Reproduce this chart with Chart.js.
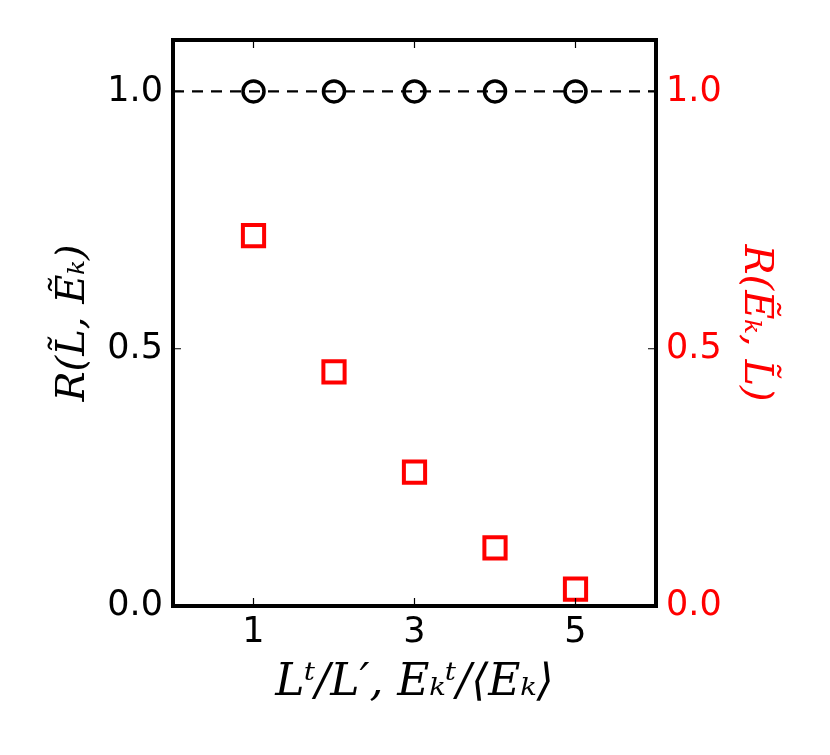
<!DOCTYPE html>
<html>
<head>
<meta charset="utf-8">
<script src="https://cdn.jsdelivr.net/npm/chart.js@4.4.0/dist/chart.umd.min.js"></script>
<style>
  html, body { margin: 0; padding: 0; background: #fff; }
  #wrap { width: 830px; height: 755px; }
</style>
</head>
<body>
<div id="wrap"><canvas id="corrChart"></canvas></div>
<script>
// values
const ratios = [1, 2, 3, 4, 5];
const corrLE = [1.0, 1.0, 1.0, 1.0, 1.0];
const corrEL = [0.72, 0.455, 0.26, 0.113, 0.033];
const refLevel = 1.0;
const xRange = [0, 6];
const yRange = [0, 1.1];
const xTicks = [1, 3, 5];
const yTicks = [0.0, 0.5, 1.0];

const tickFont = { family: 'DejaVu Sans', size: 35 };
const titleFont = { family: 'DejaVu Serif', size: 40, style: 'italic' };

// frame + inward tick marks, like the matplotlib original
const framePlugin = {
    id: 'frame',
    afterDatasetsDraw(chart) {
        const { ctx, chartArea: a, scales } = chart;
        ctx.save();
        ctx.strokeStyle = '#000';
        ctx.lineWidth = 1.2;
        ctx.beginPath();
        xTicks.forEach(v => {
            const px = scales.x.getPixelForValue(v);
            ctx.moveTo(px, a.bottom); ctx.lineTo(px, a.bottom - 8);
            ctx.moveTo(px, a.top); ctx.lineTo(px, a.top + 8);
        });
        yTicks.forEach(v => {
            const py = scales.y.getPixelForValue(v);
            ctx.moveTo(a.left, py); ctx.lineTo(a.left + 8, py);
            const pr = scales.y2.getPixelForValue(v);
            ctx.moveTo(a.right, pr); ctx.lineTo(a.right - 8, pr);
        });
        ctx.stroke();
        ctx.lineWidth = 4;
        ctx.strokeRect(a.left, a.top, a.right - a.left, a.bottom - a.top);
        ctx.restore();
    }
};

const noGrid = { display: false, drawTicks: false, tickLength: 0 };

new Chart(document.getElementById('corrChart'), {
    type: 'scatter',
    data: {
        datasets: [
            {
                type: 'line',
                data: xRange.map(x => ({ x: x, y: refLevel })),
                borderColor: '#000',
                borderWidth: 2.2,
                borderDash: [11, 8],
                pointRadius: 0,
                yAxisID: 'y'
            },
            {
                data: ratios.map((x, i) => ({ x: x, y: corrLE[i] })),
                pointStyle: 'circle',
                pointRadius: 10.5,
                borderWidth: 3.5,
                borderColor: '#000',
                backgroundColor: 'rgba(0,0,0,0)',
                yAxisID: 'y'
            },
            {
                data: ratios.map((x, i) => ({ x: x, y: corrEL[i] })),
                pointStyle: 'rect',
                pointRadius: 15,
                borderWidth: 4,
                borderColor: '#ff0000',
                backgroundColor: 'rgba(0,0,0,0)',
                yAxisID: 'y2'
            }
        ]
    },
    options: {
        responsive: true,
        maintainAspectRatio: false,
        animation: false,
        layout: { padding: { left: 40, right: 37, top: 40, bottom: 37 } },
        scales: {
            x: {
                type: 'linear',
                min: xRange[0],
                max: xRange[1],
                afterBuildTicks: s => { s.ticks = xTicks.map(v => ({ value: v })); },
                afterFit: s => { s.height = 112; },
                ticks: { color: '#000', font: tickFont, padding: 6, maxRotation: 0 },
                grid: noGrid,
                border: { display: false },
                title: {
                    display: true,
                    text: 'Lᵗ/L′, Eₖᵗ/⟨Eₖ⟩',
                    color: '#000',
                    font: { family: 'DejaVu Serif', size: 44, style: 'italic' },
                    padding: { top: 0, bottom: 8 }
                }
            },
            y: {
                position: 'left',
                min: yRange[0],
                max: yRange[1],
                afterBuildTicks: s => { s.ticks = yTicks.map(v => ({ value: v })); },
                afterFit: s => { s.width = 133; },
                ticks: { color: '#000', font: tickFont, padding: 10, callback: v => v.toFixed(1) },
                grid: noGrid,
                border: { display: false },
                title: {
                    display: true,
                    text: 'R(L̃, Ẽₖ)',
                    color: '#000',
                    font: titleFont,
                    padding: { top: 10, bottom: 0 }
                }
            },
            y2: {
                position: 'right',
                min: yRange[0],
                max: yRange[1],
                afterBuildTicks: s => { s.ticks = yTicks.map(v => ({ value: v })); },
                afterFit: s => { s.width = 137; },
                ticks: { color: '#ff0000', font: tickFont, padding: 10, callback: v => v.toFixed(1) },
                grid: noGrid,
                border: { display: false },
                title: {
                    display: true,
                    text: 'R(Ẽₖ, L̃)',
                    color: '#ff0000',
                    font: titleFont,
                    padding: { top: 14, bottom: 0 }
                }
            }
        },
        plugins: {
            legend: { display: false },
            tooltip: { enabled: false }
        }
    },
    plugins: [framePlugin]
});
</script>
</body>
</html>
